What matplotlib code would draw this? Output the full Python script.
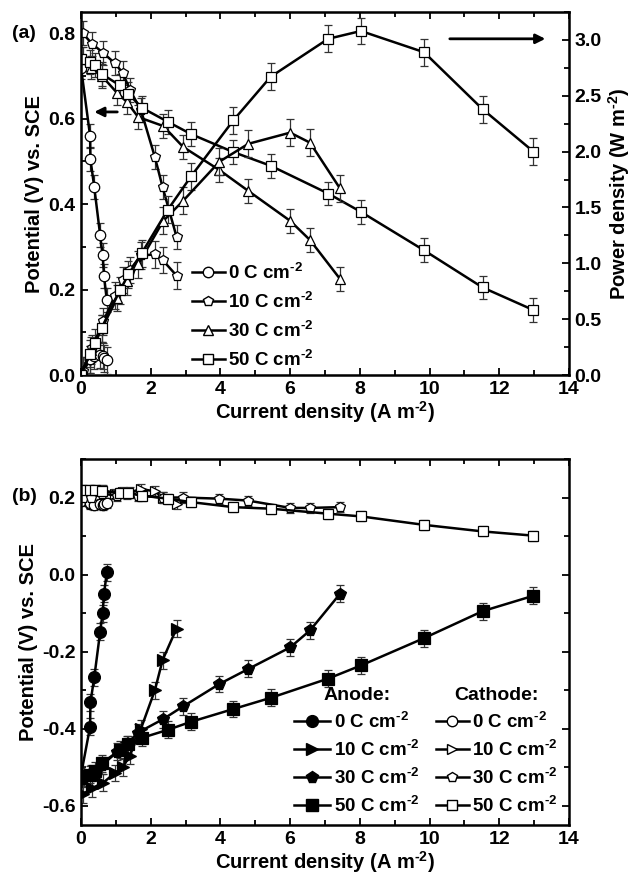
import matplotlib
matplotlib.use("Agg")
import matplotlib.pyplot as plt
from matplotlib.lines import Line2D
from matplotlib.ticker import MultipleLocator, FuncFormatter

plt.rcParams['font.family'] = ['Liberation Sans', 'DejaVu Sans']
plt.rcParams['font.weight'] = 'bold'
plt.rcParams['mathtext.fontset'] = 'custom'
plt.rcParams['mathtext.rm'] = 'Liberation Sans:bold'
plt.rcParams['mathtext.bf'] = 'Liberation Sans:bold'
plt.rcParams['mathtext.default'] = 'bf'

# ---------------- data ----------------
labels = ["0 C cm$^{\\text{-}2}$", "10 C cm$^{\\text{-}2}$", "30 C cm$^{\\text{-}2}$", "50 C cm$^{\\text{-}2}$"]
markers = ['o', 'p', '^', 's']

# current densities (A m-2)
x0 = [0.0, 0.26, 0.27, 0.38, 0.55, 0.62, 0.66, 0.74]
x10 = [0.05, 0.31, 0.64, 0.97, 1.2, 1.4, 1.72, 2.12, 2.34, 2.74]
x30 = [0.05, 0.3, 0.6, 1.04, 1.31, 1.64, 2.36, 2.93, 3.97, 4.8, 6.0, 6.57, 7.43]
x50 = [0.0, 0.26, 0.4, 0.59, 1.12, 1.36, 1.74, 2.49, 3.16, 4.37, 5.44, 7.09, 8.03, 9.84, 11.52, 12.98]

# (a) cell potential (V vs SCE)
v0 = [0.72, 0.56, 0.505, 0.44, 0.327, 0.28, 0.232, 0.175]
v10 = [0.80, 0.776, 0.754, 0.73, 0.707, 0.668, 0.62, 0.51, 0.44, 0.324]
v30 = [0.74, 0.72, 0.70, 0.66, 0.64, 0.604, 0.583, 0.534, 0.48, 0.431, 0.361, 0.316, 0.225]
v50 = [0.74, 0.733, 0.725, 0.705, 0.678, 0.659, 0.626, 0.593, 0.564, 0.522, 0.49, 0.425, 0.382, 0.292, 0.205, 0.152]

# (a) power density (W m-2)
p0 = [0.0, 0.14, 0.14, 0.17, 0.18, 0.17, 0.15, 0.13]
p10 = [0.04, 0.24, 0.48, 0.71, 0.85, 0.94, 1.07, 1.08, 1.03, 0.89]
p30 = [0.04, 0.22, 0.42, 0.69, 0.84, 0.99, 1.38, 1.56, 1.91, 2.07, 2.17, 2.08, 1.67]
p50 = [0.0, 0.19, 0.29, 0.42, 0.76, 0.90, 1.09, 1.48, 1.78, 2.28, 2.67, 3.01, 3.08, 2.89, 2.38, 2.0]

# (b) anode potentials
a0 = [-0.52, -0.395, -0.332, -0.267, -0.148, -0.10, -0.05, 0.006]
a10 = [-0.57, -0.555, -0.54, -0.515, -0.50, -0.47, -0.40, -0.30, -0.222, -0.14]
a30 = [-0.53, -0.515, -0.495, -0.46, -0.44, -0.41, -0.375, -0.342, -0.284, -0.245, -0.189, -0.145, -0.05]
a50 = [-0.525, -0.52, -0.509, -0.49, -0.455, -0.44, -0.424, -0.403, -0.382, -0.349, -0.32, -0.27, -0.236, -0.165, -0.095, -0.055]

# (b) cathode potentials
c0 = [0.19, 0.183, 0.185, 0.18, 0.183, 0.18, 0.183, 0.185]
c10 = [0.22, 0.215, 0.218, 0.21, 0.215, 0.213, 0.222, 0.216, 0.20, 0.183]
c30 = [0.20, 0.20, 0.21, 0.205, 0.21, 0.205, 0.20, 0.20, 0.197, 0.192, 0.173, 0.173, 0.175]
c50 = [0.22, 0.22, 0.219, 0.218, 0.211, 0.211, 0.205, 0.197, 0.188, 0.175, 0.171, 0.158, 0.151, 0.129, 0.112, 0.101]

# error bar half-widths
err_v = 0.028
err_p = 0.12
err_b = 0.022

xs = [x0, x10, x30, x50]
vs = [v0, v10, v30, v50]
ps = [p0, p10, p30, p50]
ans = [a0, a10, a30, a50]
cas = [c0, c10, c30, c50]

# ---------------- figure ----------------
fig = plt.figure(figsize=(6.44, 8.83), dpi=100)
axa = fig.add_axes([0.1258, 0.5753, 0.7578, 0.4111])
axp = axa.twinx()
axb = fig.add_axes([0.1258, 0.0657, 0.7578, 0.4145])

LW = 1.8
MS = 7.5
ekw = dict(ecolor='#333333', elinewidth=0.9, capsize=3, capthick=0.9)

for x, v, p, m in zip(xs, vs, ps, markers):
    axa.errorbar(x, v, yerr=err_v, color='black', lw=LW, marker=m, ms=MS,
                 mfc='white', mec='black', mew=0.9, **ekw)
    axp.errorbar(x, p, yerr=err_p, color='black', lw=LW, marker=m, ms=MS,
                 mfc='white', mec='black', mew=0.9, **ekw)

axa.set_xlim(0, 14)
axa.set_ylim(0, 0.85)
axp.set_ylim(0, 3.25)

bmarkers = ['o', '>', 'p', 's']
for x, a, c, m in zip(xs, ans, cas, bmarkers):
    axb.errorbar(x, c, yerr=0.6 * err_b, color='black', lw=LW, marker=m, ms=MS,
                 mfc='white', mec='black', mew=0.9, **ekw)
    axb.errorbar(x, a, yerr=err_b, color='black', lw=LW, marker=m, ms=MS + 1,
                 mfc='black', mec='black', mew=0.9, **ekw)
axb.set_xlim(0, 14)
axb.set_ylim(-0.65, 0.3)

fs = 14
lfs = 14.5
gfs = 13.5
for ax in (axa, axb):
    ax.xaxis.set_major_locator(MultipleLocator(2))
    ax.xaxis.set_minor_locator(MultipleLocator(1))
    ax.yaxis.set_major_locator(MultipleLocator(0.2))
    ax.yaxis.set_minor_locator(MultipleLocator(0.1))
    ax.tick_params(which='both', direction='in', top=True, width=1.3, labelsize=fs)
    ax.tick_params(which='major', length=5, pad=4)
    ax.tick_params(which='minor', length=3.5)
    for s in ax.spines.values():
        s.set_linewidth(1.8)
    ax.set_xlabel("Current density (A m$^{\\text{-}2}$)", fontsize=lfs, fontweight='bold', labelpad=1)
    ax.set_ylabel("Potential (V) vs. SCE", fontsize=lfs, fontweight='bold', labelpad=3)
    for lab in ax.get_xticklabels() + ax.get_yticklabels():
        lab.set_fontweight('bold')

axa.tick_params(which='both', right=False)
axp.yaxis.set_major_locator(MultipleLocator(0.5))
axp.yaxis.set_minor_locator(MultipleLocator(0.25))
axp.tick_params(which='both', direction='in', width=1.3, labelsize=fs)
axp.tick_params(which='major', length=5, pad=4)
axp.tick_params(which='minor', length=3.5)
axp.set_ylabel("Power density (W m$^{\\text{-}2}$)", fontsize=lfs, fontweight='bold', labelpad=3)
for lab in axp.get_yticklabels():
    lab.set_fontweight('bold')
axb.tick_params(which='both', right=True)

def fmt(v, pos):
    return f"{v:.1f}"
axa.yaxis.set_major_formatter(FuncFormatter(fmt))
axp.yaxis.set_major_formatter(FuncFormatter(fmt))
axb.yaxis.set_major_formatter(FuncFormatter(fmt))

# arrows
axa.annotate("", xy=(0.3, 0.616), xytext=(1.12, 0.616),
             arrowprops=dict(arrowstyle='-|>', lw=2, color='black', mutation_scale=14))
axp.annotate("", xy=(13.4, 3.01), xytext=(10.5, 3.01),
             arrowprops=dict(arrowstyle='-|>', lw=2, color='black', mutation_scale=14))

# panel labels
fig.text(0.019, 1 - 33 / 883, "(a)", fontsize=fs, fontweight='bold', va='center')
fig.text(0.019, 1 - 497 / 883, "(b)", fontsize=fs, fontweight='bold', va='center')

# legend (a)
ha = [Line2D([], [], color='black', lw=LW, marker=m, ms=MS, mfc='white', mec='black')
      for m in markers]
axa.legend(ha, labels, loc='lower left', bbox_to_anchor=(0.2, -0.022), frameon=False,
           fontsize=gfs, handlelength=1.75, handletextpad=0.2, labelspacing=0.48,
           borderpad=0.2)

# legends (b)
hb_an = [Line2D([], [], color='black', lw=LW, marker=m, ms=MS + 1, mfc='black', mec='black')
         for m in bmarkers]
hb_ca = [Line2D([], [], color='black', lw=LW, marker=m, ms=MS, mfc='white', mec='black')
         for m in bmarkers]
lg1 = axb.legend(hb_an, labels, loc='lower left', bbox_to_anchor=(0.41, -0.01), frameon=False,
                 fontsize=gfs, handlelength=1.9, handletextpad=0.2, labelspacing=0.42,
                 borderpad=0.2, title="Anode:", title_fontproperties={'size': gfs + 0.5, 'weight': 'bold'})
axb.add_artist(lg1)
axb.legend(hb_ca, labels, loc='lower left', bbox_to_anchor=(0.7, -0.01), frameon=False,
           fontsize=gfs, handlelength=1.75, handletextpad=0.2, labelspacing=0.42,
           borderpad=0.2, title="Cathode:", title_fontproperties={'size': gfs + 0.5, 'weight': 'bold'})

fig.savefig("out.png", dpi=100)
